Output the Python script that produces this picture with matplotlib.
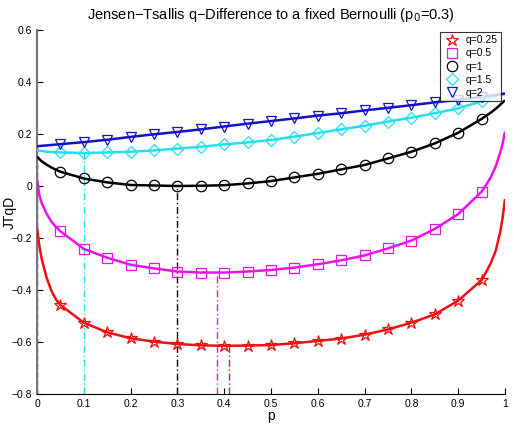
import matplotlib
matplotlib.use("Agg")
import matplotlib.pyplot as plt
from matplotlib.lines import Line2D

# ---- data ----
p_marks = [0.05, 0.10, 0.15, 0.20, 0.25, 0.30, 0.35, 0.40, 0.45, 0.50,
           0.55, 0.60, 0.65, 0.70, 0.75, 0.80, 0.85, 0.90, 0.95]

# q = 0.25
p_start_q025 = [0.0, 0.005, 0.01, 0.02, 0.03, 0.04]
y_start_q025 = [-0.16, -0.23, -0.28, -0.35, -0.40, -0.435]
y_marks_q025 = [-0.458, -0.526, -0.563, -0.586, -0.599, -0.608, -0.613, -0.615, -0.614, -0.612,
                -0.605, -0.596, -0.587, -0.572, -0.552, -0.526, -0.494, -0.441, -0.362]
p_end_q025 = [0.96, 0.97, 0.98, 0.99, 0.995, 1.0]
y_end_q025 = [-0.33, -0.295, -0.25, -0.175, -0.12, -0.05]

# q = 0.5
p_start_q05 = [0.0, 0.005, 0.01, 0.02, 0.03, 0.04]
y_start_q05 = [0.026, -0.035, -0.065, -0.105, -0.135, -0.157]
y_marks_q05 = [-0.174, -0.242, -0.276, -0.303, -0.317, -0.329, -0.333, -0.333, -0.329, -0.323,
               -0.314, -0.301, -0.286, -0.267, -0.240, -0.210, -0.165, -0.108, -0.022]
p_end_q05 = [0.96, 0.97, 0.98, 0.99, 0.995, 1.0]
y_end_q05 = [0.005, 0.035, 0.075, 0.13, 0.165, 0.209]

# q = 1
p_start_q1 = [0.0, 0.01, 0.02, 0.03, 0.04]
y_start_q1 = [0.113, 0.095, 0.083, 0.072, 0.063]
y_marks_q1 = [0.055, 0.029, 0.014, 0.004, 0.002, 0.0, 0.001, 0.003, 0.010, 0.019,
              0.033, 0.047, 0.064, 0.081, 0.106, 0.132, 0.164, 0.205, 0.258]
p_end_q1 = [0.97, 0.98, 0.99, 1.0]
y_end_q1 = [0.283, 0.297, 0.313, 0.33]

# q = 1.5
p_start_q15 = [0.0, 0.02]
y_start_q15 = [0.138, 0.132]
y_marks_q15 = [0.129, 0.127, 0.129, 0.132, 0.137, 0.144, 0.151, 0.160, 0.168, 0.177,
               0.190, 0.204, 0.218, 0.232, 0.248, 0.263, 0.280, 0.299, 0.326]
p_end_q15 = [0.98, 1.0]
y_end_q15 = [0.345, 0.359]

# q = 2
p_start_q2 = [0.0]
y_start_q2 = [0.153]
y_marks_q2 = [0.161, 0.169, 0.178, 0.189, 0.199, 0.208, 0.218, 0.229, 0.240, 0.250,
              0.260, 0.271, 0.280, 0.291, 0.301, 0.311, 0.322, 0.332, 0.343]
p_end_q2 = [1.0]
y_end_q2 = [0.355]

labels = ["q=0.25", "q=0.5", "q=1", "q=1.5", "q=2"]

# minima markers (vertical lines)
vline_x = [0.41, 0.384, 0.30, 0.10, 0.0]
vline_top = [-0.615, -0.333, 0.0, 0.127, 0.153]

xticks = [0, 0.1, 0.2, 0.3, 0.4, 0.5, 0.6, 0.7, 0.8, 0.9, 1]
xticklabels = ["0", "0.1", "0.2", "0.3", "0.4", "0.5", "0.6", "0.7", "0.8", "0.9", "1"]
yticks = [-0.8, -0.6, -0.4, -0.2, 0, 0.2, 0.4, 0.6]
yticklabels = ["\u22120.8", "\u22120.6", "\u22120.4", "\u22120.2", "0", "0.2", "0.4", "0.6"]

# ---- styling ----
colors = ["#ee1111", "#ee11ee", "#000000", "#22e0f0", "#1111cc"]
markers = ["*", "s", "o", "D", "v"]
msizes = [9, 6.5, 7.5, 6, 7.5]
vstyles = [(0, (5, 2, 1, 2)), (0, (5, 2, 1, 2)), (0, (5, 2, 1, 2)), (0, (5, 2, 1, 2)), (0, (4, 2))]

series = [
    (p_start_q025, y_start_q025, y_marks_q025, p_end_q025, y_end_q025),
    (p_start_q05, y_start_q05, y_marks_q05, p_end_q05, y_end_q05),
    (p_start_q1, y_start_q1, y_marks_q1, p_end_q1, y_end_q1),
    (p_start_q15, y_start_q15, y_marks_q15, p_end_q15, y_end_q15),
    (p_start_q2, y_start_q2, y_marks_q2, p_end_q2, y_end_q2),
]

plt.rcParams['font.family'] = ['Liberation Sans', 'DejaVu Sans']
fig = plt.figure(figsize=(5.14, 4.24), dpi=100)
ax = fig.add_axes([0.072, 0.071, 0.9105, 0.858])

for i, (ps, ys, ym, pe, ye) in enumerate(series):
    ax.plot([vline_x[i], vline_x[i]], [-0.8, vline_top[i]], color=colors[i],
            linestyle=vstyles[i], linewidth=1.0, zorder=2)

handles = []
for i, (ps, ys, ym, pe, ye) in enumerate(series):
    px = ps + p_marks + pe
    py = ys + ym + ye
    ax.plot(px, py, color=colors[i], linewidth=1.8, zorder=3, solid_capstyle='butt')
    ax.plot(p_marks, ym, linestyle='none', marker=markers[i], markersize=msizes[i],
            markerfacecolor='none', markeredgecolor=colors[i], markeredgewidth=0.9, zorder=4)
    handles.append(Line2D([], [], linestyle='none', marker=markers[i], markersize=msizes[i],
                          markerfacecolor='none', markeredgecolor=colors[i],
                          markeredgewidth=0.9, label=labels[i]))

ax.set_xlim(0, 1)
ax.set_ylim(-0.8, 0.6)
ax.set_xticks(xticks)
ax.set_xticklabels(xticklabels)
ax.set_yticks(yticks)
ax.set_yticklabels(yticklabels)
ax.tick_params(direction='in', length=4, labelsize=7.5, width=0.8)
ax.spines['top'].set_visible(False)
ax.spines['right'].set_visible(False)
ax.spines['left'].set_color('#777777')
ax.spines['left'].set_linewidth(1.5)
ax.spines['bottom'].set_linewidth(0.8)

ax.set_title("Jensen\u2212Tsallis q\u2212Difference to a fixed Bernoulli (p$_0$=0.3)",
             fontsize=10.5, pad=8)
ax.set_xlabel("p", fontsize=10, labelpad=0)
fig.text(10 / 514, 0.5, "JTqD", rotation=90, ha='center', va='center', fontsize=10)

leg = ax.legend(handles=handles, loc='upper right', bbox_to_anchor=(0.995, 1.0),
                fontsize=7.5, frameon=True, fancybox=False, edgecolor='black',
                handlelength=1.6, handletextpad=0.5, labelspacing=0.3,
                borderpad=0.3, borderaxespad=0.2)
leg.get_frame().set_linewidth(0.8)

fig.savefig("out.png", dpi=100)
